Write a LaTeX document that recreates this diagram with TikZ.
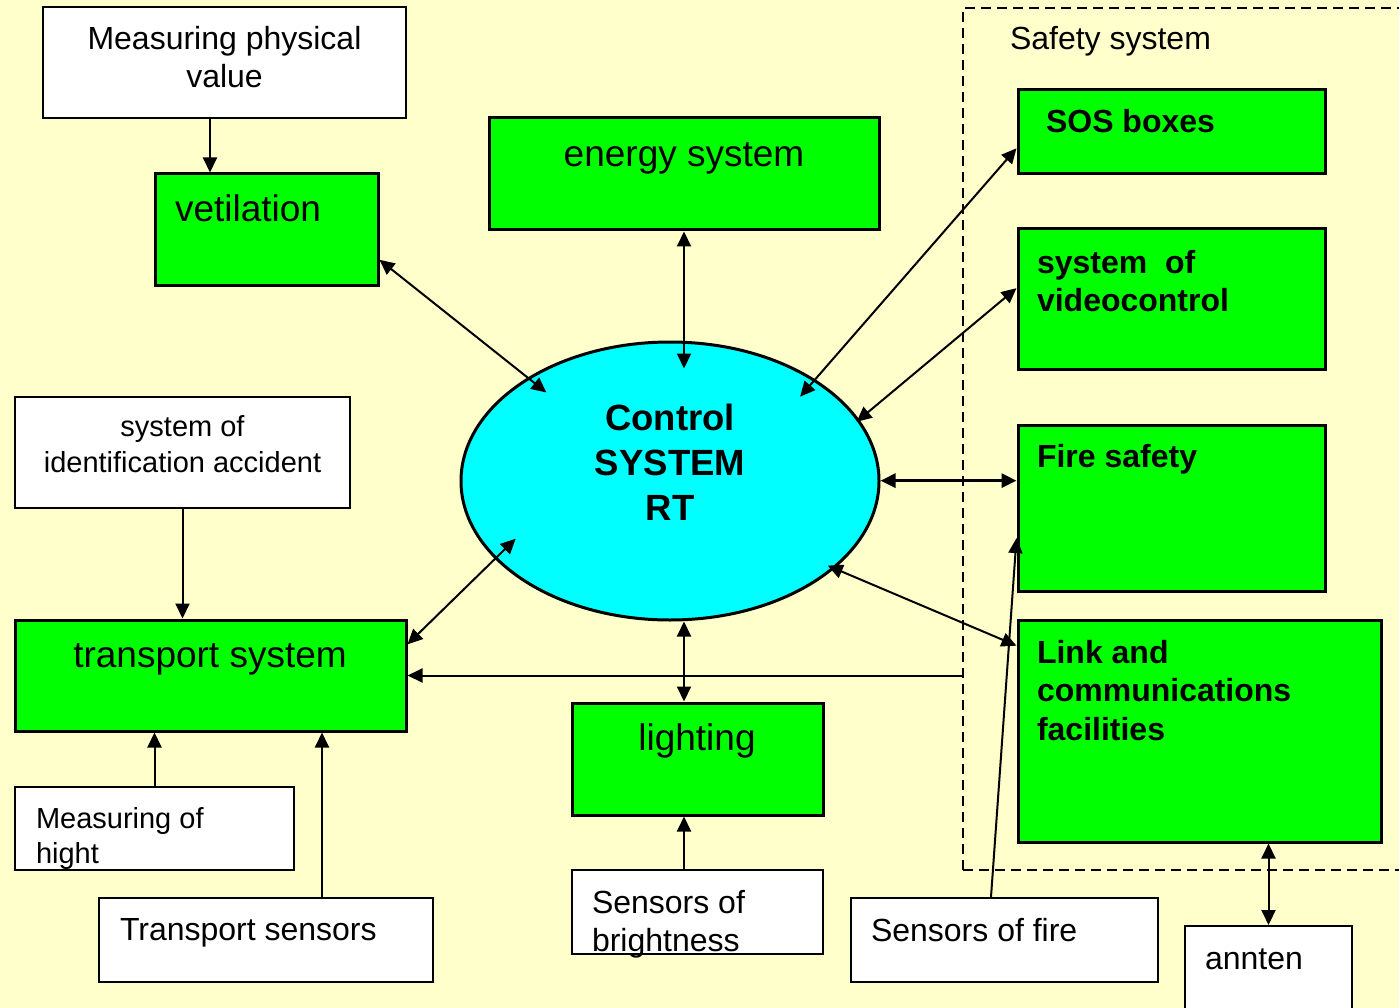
\documentclass[tikz,border=0pt]{standalone}
\usepackage{fontspec}
\setmainfont{Liberation Sans}
\usetikzlibrary{arrows.meta,shapes.geometric}

\definecolor{paper}{RGB}{255,255,204}
\definecolor{boxgreen}{RGB}{0,255,0}
\definecolor{ctrlcyan}{RGB}{0,255,255}

\newcommand\smalltxt{\fontsize{32}{38}\selectfont}
\newcommand\bigtxt{\fontsize{37}{45}\selectfont}
\newcommand\boldtxt{\bfseries\fontsize{32}{38.5}\selectfont}
\newcommand\ctrltxt{\bfseries\fontsize{36.5}{45}\selectfont}

\tikzset{every picture/.style={line width=2pt}}
\tikzset{
  greenbox/.style={draw, fill=boxgreen, line width=3pt, inner sep=0pt},
  whitebox/.style={draw, fill=white, line width=2pt, inner sep=0pt},
  txt/.style={inner sep=0pt, font=\smalltxt},
  onearrow/.style={-{Triangle[length=15pt,width=14pt]}},
  twoarrow/.style={{Triangle[length=15pt,width=14pt]}-{Triangle[length=15pt,width=14pt]}},
}

\begin{document}
\begin{tikzpicture}[x=1pt,y=1pt,yscale=-1,xscale=1]
\fill[paper] (0,0) rectangle (1399,1008);
\useasboundingbox (0,0) rectangle (1399,1008);

%Shape: Dashed Rectangle
\node[draw, dash pattern=on 10pt off 6pt, line width=2pt, inner sep=0pt, minimum width=447pt, minimum height=862pt] (safety) at (1186.5,439) {};

%Shape: Rectangle
\node[whitebox, minimum width=363pt, minimum height=111pt] (mpv) at (224.5,62.5) {};
\node[greenbox, minimum width=223pt, minimum height=111pt] (vent) at (266.5,229.5) {};
\node[greenbox, minimum width=390pt, minimum height=112pt] (energy) at (684,174) {};
\node[greenbox, minimum width=307pt, minimum height=84pt] (sos) at (1171.5,132) {};
\node[greenbox, minimum width=307pt, minimum height=140pt] (video) at (1171.5,299) {};
\node[greenbox, minimum width=307pt, minimum height=166pt] (fire) at (1171.5,508) {};
\node[greenbox, minimum width=363pt, minimum height=222pt] (link) at (1199.5,731) {};
\node[whitebox, minimum width=335pt, minimum height=111pt] (ident) at (182.5,452.5) {};
\node[greenbox, minimum width=391pt, minimum height=111pt] (transport) at (210.5,675.5) {};
\node[whitebox, minimum width=279pt, minimum height=83pt] (hight) at (154.5,828.5) {};
\node[whitebox, minimum width=334pt, minimum height=84pt] (tsens) at (266,940) {};
\node[greenbox, minimum width=251pt, minimum height=112pt] (lighting) at (697.5,759) {};
\node[whitebox, minimum width=251pt, minimum height=84pt] (bright) at (697.5,912) {};
\node[whitebox, minimum width=307pt, minimum height=84pt] (sfire) at (1004.5,940) {};
\node[whitebox, minimum width=167pt, minimum height=94pt] (annten) at (1268.5,973) {};

%Shape: Ellipse
\node[ellipse, draw, fill=ctrlcyan, line width=3pt, inner sep=0pt, minimum width=418pt, minimum height=278pt] (ctrl) at (670,481) {};

% Text Node
\node[txt, anchor=base west] (safetytxt) at (1009,50) {Safety system};
% Text Node
\node[txt, align=center, anchor=north] (mpvtxt) at (224.5,25.5) {Measuring physical\\value};
% Text Node
\node[txt, font=\bigtxt, anchor=base west] (venttxt) at (174,222) {vetilation};
% Text Node
\node[txt, font=\bigtxt, anchor=base] (energytxt) at (684,167) {energy system};
% Text Node
\node[txt, font=\boldtxt, anchor=base west] (sostxt) at (1045,133) {SOS boxes};
% Text Node
\node[txt, font=\boldtxt, align=left, anchor=north west] (videotxt) at (1036,249) {system\ \ of\\videocontrol};
% Text Node
\node[txt, font=\boldtxt, anchor=base west] (firetxt) at (1036,467) {Fire safety};
% Text Node
\node[txt, font=\boldtxt, align=left, anchor=north west] (linktxt) at (1036,639) {Link and\\communications\\facilities};
% Text Node
\node[txt, font=\ctrltxt, align=center, anchor=north] (ctrltxt) at (670,403) {Control\\SYSTEM\\RT};
% Text Node
\node[txt, font=\fontsize{29}{36}\selectfont, align=center, anchor=north] (identtxt) at (182.5,415) {system of\\identification accident};
% Text Node
\node[txt, font=\bigtxt, anchor=base] (transporttxt) at (210,667) {transport system};
% Text Node
\node[txt, font=\fontsize{29}{35}\selectfont, align=left, anchor=north west] (highttxt) at (35,806) {Measuring of\\hight};
% Text Node
\node[txt, anchor=base west] (tsenstxt) at (119,940) {Transport sensors};
% Text Node
\node[txt, font=\bigtxt, anchor=base] (lightingtxt) at (697,750) {lighting};
% Text Node
\node[txt, align=left, anchor=north west] (brighttxt) at (591,889) {Sensors of\\brightness};
% Text Node
\node[txt, anchor=base west] (sfiretxt) at (870,941) {Sensors of fire};
% Text Node
\node[txt, anchor=base west] (anntentxt) at (1204,969) {annten};

%Straight Lines
\draw[twoarrow, shorten >=-24pt] (vent.-15) -- (ctrl.144.8);
\draw[twoarrow, shorten >=-28pt] (energy.south) -- (energy.south |- ctrl.north);
\draw[twoarrow, shorten >=-23pt] (sos.186) -- (ctrl.35.7);
\draw[twoarrow, shorten >=-3.5pt] (video.176) -- (ctrl.18.1);
\draw[twoarrow, line width=3pt] (fire.170) -- (fire.170 -| ctrl.east);
\draw[twoarrow, shorten >=-7.5pt] (link.155) -- (ctrl.-28.5);
\draw[twoarrow, shorten >=-29pt] (transport.9) -- (ctrl.204);
\draw[twoarrow] ([xshift=-13.5pt]lighting.north) -- ([xshift=-13.5pt]lighting.north |- ctrl.south);
\draw[twoarrow] (annten.north) -- (annten.north |- link.south);

%Straight Lines
\draw[onearrow] ([xshift=-14.5pt]mpv.south) -- ([xshift=-14.5pt]mpv.south |- vent.north);
\draw[onearrow] (ident.south) -- (ident.south |- transport.north);
\draw[onearrow] (hight.north) -- (hight.north |- transport.south);
\draw[onearrow] ([xshift=56pt]tsens.north) -- ([xshift=56pt]tsens.north |- transport.south);
\draw[onearrow] ([xshift=-13.5pt]bright.north) -- ([xshift=-13.5pt]bright.north |- lighting.south);
\draw[onearrow] ([xshift=-13.5pt]sfire.north) -- (fire.191);
\draw[onearrow] (safety.west |- transport.east) -- (transport.east);

\end{tikzpicture}
\end{document}
